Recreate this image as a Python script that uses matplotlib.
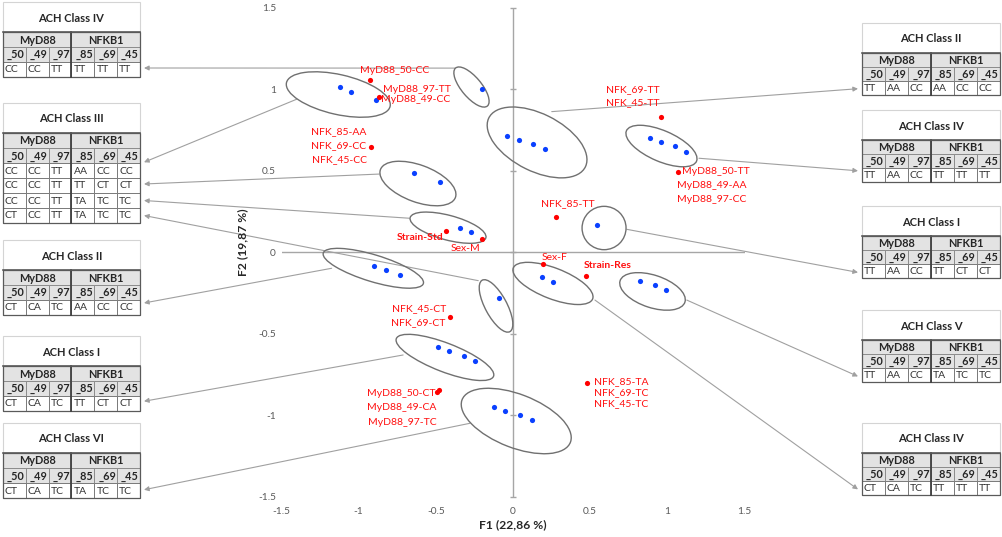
import matplotlib
matplotlib.use('Agg')
import matplotlib.pyplot as plt
from matplotlib.patches import Ellipse, Rectangle
import numpy as np

plt.rcParams['font.family'] = ['Lato', 'DejaVu Sans']

# ---------------- data ----------------
ticks = [-1.5, -1, -0.5, 0, 0.5, 1, 1.5]
tick_labels = ['-1.5', '-1', '-0.5', '0', '0.5', '1', '1.5']

# observations (blue points)
obs_x = [-1.121, -1.050, -0.885, -0.202,
         -0.037, 0.039, 0.132, 0.208,
         0.885, 0.959, 1.049, 1.122,
         0.545, -0.640, -0.472, -0.341, -0.270,
         -0.899, -0.825, -0.730, -0.091,
         0.186, 0.258, 0.823, 0.918, 0.990,
         -0.488, -0.413, -0.320, -0.246,
         -0.121, -0.049, 0.047, 0.121]
obs_y = [1.014, 0.981, 0.932, 1.002,
         0.714, 0.688, 0.662, 0.632,
         0.703, 0.677, 0.653, 0.618,
         0.166, 0.487, 0.434, 0.151, 0.123,
         -0.084, -0.110, -0.137, -0.279,
         -0.150, -0.182, -0.174, -0.201, -0.232,
         -0.579, -0.608, -0.636, -0.665,
         -0.947, -0.973, -1.000, -1.031]

# modalities (red points)
mod_x = [-0.927, -0.870, -0.920, 0.957, 1.071, 0.277, -0.436, -0.203,
         0.192, 0.473, -0.408, -0.493, -0.478, 0.482]
mod_y = [1.057, 0.953, 0.648, 0.828, 0.494, 0.215, 0.131, 0.080,
         -0.074, -0.145, -0.395, -0.859, -0.845, -0.804]

# modality labels: text, x, y, ha, bold
mod_labels = [
    ("MyD88_50-CC", -0.765, 1.118, 'center', False),
    ("MyD88_97-TT", -0.622, 0.996, 'center', False),
    ("MyD88_49-CC", -0.629, 0.940, 'center', False),
    ("NFK_85-AA", -1.128, 0.740, 'center', False),
    ("NFK_69-CC", -1.128, 0.654, 'center', False),
    ("NFK_45-CC", -1.122, 0.566, 'center', False),
    ("NFK_69-TT", 0.778, 0.996, 'center', False),
    ("NFK_45-TT", 0.778, 0.916, 'center', False),
    ("MyD88_50-TT", 1.093, 0.494, 'left', False),
    ("MyD88_49-AA", 1.288, 0.409, 'center', False),
    ("MyD88_97-CC", 1.290, 0.321, 'center', False),
    ("NFK_85-TT", 0.356, 0.301, 'center', False),
    ("Strain-Std", -0.603, 0.092, 'center', True),
    ("Sex-M", -0.307, 0.025, 'center', False),
    ("Sex-F", 0.272, -0.031, 'center', False),
    ("Strain-Res", 0.611, -0.078, 'center', True),
    ("NFK_45-CT", -0.607, -0.344, 'center', False),
    ("NFK_69-CT", -0.614, -0.432, 'center', False),
    ("MyD88_50-CT", -0.721, -0.865, 'center', False),
    ("MyD88_49-CA", -0.721, -0.953, 'center', False),
    ("MyD88_97-TC", -0.715, -1.045, 'center', False),
    ("NFK_85-TA", 0.525, -0.794, 'left', False),
    ("NFK_69-TC", 0.525, -0.863, 'left', False),
    ("NFK_45-TC", 0.525, -0.931, 'left', False),
]

# cluster ellipses: cx, cy, width, height, angle
ellipses = [
    (-1.132, 0.968, 0.687, 0.245, -12),
    (-0.269, 1.014, 0.311, 0.127, -48),
    (0.156, 0.674, 0.694, 0.354, -25),
    (0.962, 0.652, 0.491, 0.190, -22),
    (0.590, 0.149, 0.285, 0.266, 0),
    (-0.616, 0.422, 0.515, 0.228, -19),
    (-0.421, 0.151, 0.506, 0.152, -14),
    (-0.905, -0.098, 0.675, 0.165, -16),
    (-0.110, -0.329, 0.363, 0.139, -60),
    (0.259, -0.191, 0.548, 0.190, -20),
    (0.904, -0.240, 0.440, 0.200, -17),
    (-0.441, -0.645, 0.671, 0.177, -20),
    (0.021, -1.035, 0.749, 0.329, -20),
]

genes = ["MyD88", "NFKB1"]
snps = ["_50", "_49", "_97", "_85", "_69", "_45"]

table_titles = ["ACH Class IV", "ACH Class III", "ACH Class II", "ACH Class I", "ACH Class VI",
                "ACH Class II", "ACH Class IV", "ACH Class I", "ACH Class V", "ACH Class IV"]
table_rows = [
    [["CC", "CC", "TT", "TT", "TT", "TT"]],
    [["CC", "CC", "TT", "AA", "CC", "CC"],
     ["CC", "CC", "TT", "TT", "CT", "CT"],
     ["CC", "CC", "TT", "TA", "TC", "TC"],
     ["CT", "CC", "TT", "TA", "TC", "TC"]],
    [["CT", "CA", "TC", "AA", "CC", "CC"]],
    [["CT", "CA", "TC", "TT", "CT", "CT"]],
    [["CT", "CA", "TC", "TA", "TC", "TC"]],
    [["TT", "AA", "CC", "AA", "CC", "CC"]],
    [["TT", "AA", "CC", "TT", "TT", "TT"]],
    [["TT", "AA", "CC", "TT", "CT", "CT"]],
    [["TT", "AA", "CC", "TA", "TC", "TC"]],
    [["CT", "CA", "TC", "TT", "TT", "TT"]],
]

# arrows: start on ellipse (data), target table index, row position in table
arrow_sx = [-0.376, -1.402, -0.866, -0.672, -0.225, -1.175, -0.712, -0.279,
            0.251, 1.205, 0.737, 1.126, 0.531]
arrow_sy = [1.130, 0.939, 0.480, 0.209, -0.174, -0.098, -0.630, -1.049,
            0.863, 0.577, 0.141, -0.293, -0.293]
arrow_tab = [0, 1, 1, 1, 1, 2, 3, 4, 5, 6, 7, 8, 9]
arrow_row = [2.4, 1.95, 3.4, 4.5, 5.5, 2.2, 2.35, 2.45, 2.55, 2.2, 2.6, 2.6, 2.6]

# ---------------- layout ----------------
W, H = 1003, 537
fig = plt.figure(figsize=(W / 100, H / 100), dpi=100)
fig.patch.set_facecolor('white')

tax = fig.add_axes([0, 0, 1, 1], zorder=0)
tax.set_xlim(0, W)
tax.set_ylim(H, 0)
tax.axis('off')

ax = fig.add_axes([281.5 / W, 1 - 496.8 / H, 463 / W, 489 / H], zorder=1)
ax.set_xlim(-1.5, 1.5)
ax.set_ylim(-1.5, 1.5)
ax.patch.set_alpha(0)
for s in ax.spines.values():
    s.set_visible(False)
ax.set_xticks(ticks)
ax.set_xticklabels(tick_labels)
ax.set_yticks(ticks)
ax.set_yticklabels(tick_labels)
ax.tick_params(length=0, labelsize=7.3, labelcolor='#595959')
ax.tick_params(axis='x', pad=7)
ax.tick_params(axis='y', pad=4)

axis_col = '#a6a6a6'
ax.axhline(0, color=axis_col, lw=1.0, zorder=1)
ax.axvline(0, color=axis_col, lw=1.0, zorder=1)
ax.plot(np.zeros(len(ticks)), ticks, ls='none', marker='_', ms=5, mew=1.0,
        color=axis_col, zorder=1, clip_on=False)

for (cx, cy, w, h, a) in ellipses:
    ax.add_patch(Ellipse((cx, cy), w, h, angle=a, fill=False, ec='#707070', lw=1.0, zorder=2))

ax.scatter(obs_x, obs_y, s=14, color='#0a40ff', zorder=4, linewidths=0)
ax.scatter(mod_x, mod_y, s=14, color='#ff0000', zorder=4, linewidths=0)

for (t, x, y, ha, b) in mod_labels:
    ax.text(x, y, t, ha=ha, va='center', fontsize=7.5, color='#ff1010',
            fontweight='bold' if b else 'normal', zorder=5)

fig.text(513 / W, 1 - 525 / H, 'F1 (22,86 %)', ha='center', va='center',
         fontsize=8.7, fontweight='bold', color='#262626')
fig.text(243 / W, 1 - 242 / H, 'F2 (19,87 %)', ha='center', va='center',
         rotation=90, fontsize=8.7, fontweight='bold', color='#262626')

# ---------------- tables ----------------
left_x0, left_w, left_rh = 3, 137, 15
right_x0, right_w, right_rh = 862, 138, 14
title_h = 30
table_tops = [2, 103, 240, 336, 423, 23, 110, 206, 310, 423]

table_geom = []
for i, top in enumerate(table_tops):
    if i < 5:
        table_geom.append((left_x0, top, left_w, left_rh))
    else:
        table_geom.append((right_x0, top, right_w, right_rh))


def draw_table(x0, y0, w, rh, title, rows):
    cw = w / 6
    tax.add_patch(Rectangle((x0, y0), w, title_h, fc='white', ec='#d4d4d4', lw=0.8))
    tax.text(x0 + w / 2, y0 + title_h / 2 + 1, title, ha='center', va='center',
             fontsize=8, fontweight='bold', color='#262626')
    y1 = y0 + title_h
    for g, gname in enumerate(genes):
        tax.add_patch(Rectangle((x0 + g * 3 * cw, y1), 3 * cw, rh, fc='#e3e3e3',
                                ec='#8c8c8c', lw=0.7))
        tax.text(x0 + g * 3 * cw + 1.5 * cw, y1 + rh / 2 + 0.5, gname, ha='center',
                 va='center', fontsize=7.8, fontweight='bold', color='#262626')
    for c, s in enumerate(snps):
        tax.add_patch(Rectangle((x0 + c * cw, y1 + rh), cw, rh, fc='#e3e3e3',
                                ec='#8c8c8c', lw=0.7))
        tax.text(x0 + (c + 1) * cw - 1.2, y1 + 1.5 * rh + 0.5, s, ha='right',
                 va='center', fontsize=7.8, fontweight='bold', color='#262626')
    for r, row in enumerate(rows):
        yr = y1 + (2 + r) * rh
        for c, val in enumerate(row):
            tax.add_patch(Rectangle((x0 + c * cw, yr), cw, rh, fc='white',
                                    ec='#7a7a7a', lw=0.7))
            tax.text(x0 + c * cw + 2, yr + rh / 2 + 0.5, val, ha='left', va='center',
                     fontsize=7.5, color='#333333')
    bottom = y1 + (2 + len(rows)) * rh
    tax.plot([x0 + w / 2, x0 + w / 2], [y1, bottom], color='#404040', lw=1.3)
    tax.plot([x0, x0 + w], [y1, y1], color='#5a5a5a', lw=1.2)
    tax.add_patch(Rectangle((x0, y1), w, bottom - y1, fill=False, ec='#5a5a5a', lw=0.9))


for i, (x0, y0, w, rh) in enumerate(table_geom):
    draw_table(x0, y0, w, rh, table_titles[i], table_rows[i])

# ---------------- arrows ----------------
for sx, sy, ti, rp in zip(arrow_sx, arrow_sy, arrow_tab, arrow_row):
    x0, y0, w, rh = table_geom[ti]
    ty = y0 + title_h + rp * rh
    tx = x0 + w + 4 if ti < 5 else x0 - 4
    ax.annotate('', xy=(tx, ty), xycoords=tax.transData,
                xytext=(sx, sy), textcoords='data',
                arrowprops=dict(arrowstyle='-|>', color='#a0a0a0', lw=0.8,
                                mutation_scale=7, shrinkA=0, shrinkB=0),
                annotation_clip=False, zorder=1)

fig.savefig('out.png', dpi=100, facecolor='white')
